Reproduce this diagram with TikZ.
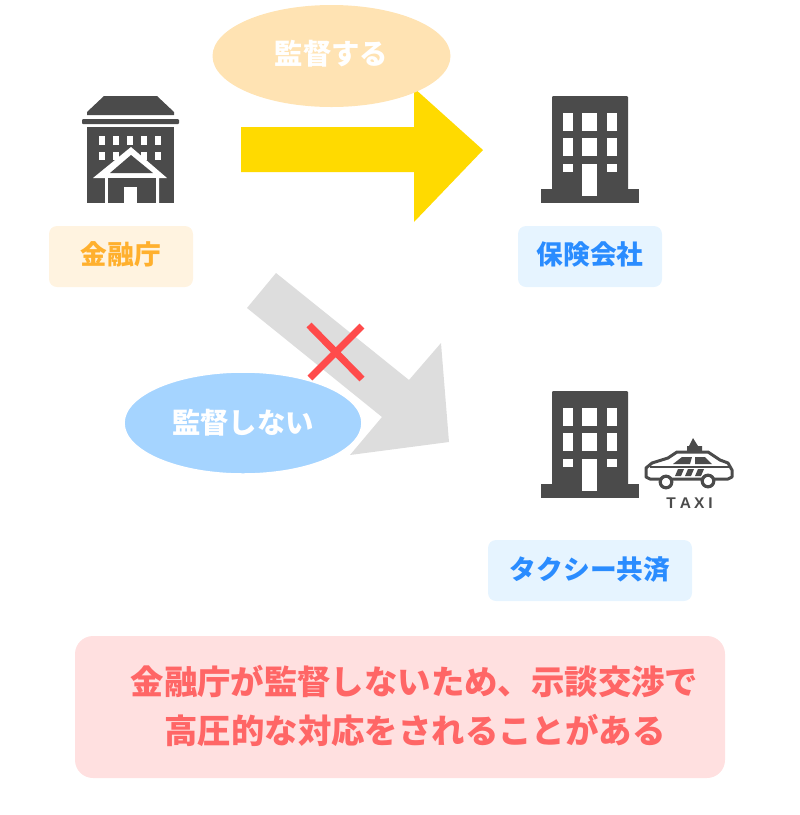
\documentclass[tikz,border=0pt]{standalone}
\usepackage{fontspec}
\setmainfont{Noto Sans CJK JP}
\setsansfont{Liberation Sans}
\definecolor{icondark}{HTML}{4B4B4B}
\definecolor{yellowarrow}{HTML}{FFDA00}
\definecolor{greyarrow}{HTML}{DDDDDD}
\definecolor{crossred}{HTML}{FF4B4B}
\definecolor{orangefill}{HTML}{FFE3B3}
\definecolor{bluefill}{HTML}{A5D4FF}
\definecolor{orangebox}{HTML}{FFF3E0}
\definecolor{orangetext}{HTML}{FFB02E}
\definecolor{bluebox}{HTML}{E6F4FF}
\definecolor{bluetext}{HTML}{2A8CFF}
\definecolor{redbox}{HTML}{FFE0E0}
\definecolor{redtext}{HTML}{FF6666}
\tikzset{
  oval/.style={ellipse,minimum width=238pt,minimum height=102pt,inner sep=0pt,
    text=white,font=\fontsize{28.4}{28.4}\selectfont\bfseries},
  labelbox/.style={rounded corners=8pt,minimum height=61pt,inner sep=0pt,
    font=\fontsize{26.7}{26.7}\selectfont\bfseries},
  notetext/.style={text=redtext,inner sep=0pt,font=\fontsize{33.4}{33.4}\selectfont\bfseries},
  office/.pic={
    \fill[icondark,rounded corners=1pt] (11,0) -- (87,0) -- (87,94) -- (11,94) -- cycle;
    \fill[icondark] (0,93) rectangle (98,107);
    \foreach \xa/\xb in {22/32,41/56,66/76} {
      \fill[white] (\xa,17) rectangle (\xb,35);
      \fill[white] (\xa,42) rectangle (\xb,60);
    }
    \fill[white] (22,68) rectangle (32,76);
    \fill[white] (66,68) rectangle (76,76);
    \fill[white] (41,68) rectangle (56,100);
  }
}
\usetikzlibrary{shapes.geometric}
\begin{document}
\begin{tikzpicture}[x=1pt,y=-1pt]
  \useasboundingbox (0,0) rectangle (800,815);
  % arrows
  \fill[yellowarrow] (241,127) -- (414,127) -- (414,88) -- (483,150) -- (414,222) -- (414,172) -- (241,172) -- cycle;
  \fill[greyarrow] (276,273) -- (409,380) -- (441,343) -- (449,442) -- (350,455) -- (382,417) -- (247,308) -- cycle;
  % ovals
  \node[oval,fill=orangefill] (kantoku) at (331.5,56) {\raisebox{7pt}{監督する}};
  \node[oval,fill=bluefill,draw=white,line width=1.5pt] (nokantoku) at (243,423) {\raisebox{4pt}{監督しない}};
  % cross
  \draw[crossred,line width=7pt] (309,325) -- (362,379) (362,326) -- (310,378);
  % government building
  \fill[icondark] (104,96) -- (157,96) -- (174,112) -- (174,115) -- (87,115) -- (87,112) -- cycle;
  \fill[icondark,rounded corners=1pt] (82,119) rectangle (179,124);
  \fill[icondark] (87,127) rectangle (174,203);
  \foreach \x in {102,116,130,144,158} {
    \fill[white] (\x-3,136) rectangle (\x+3,145);
    \fill[white] (\x-3,152) rectangle (\x+3,160);
  }
  \fill[white] (93,178) -- (131,147) -- (167,178) -- (159,178) -- (159,203) -- (105,203) -- (105,178) -- cycle;
  \fill[icondark] (110,173) -- (131,155) -- (153,173) -- cycle;
  \fill[icondark] (108,178) rectangle (156,203);
  \fill[white] (124,187) rectangle (137,203);
  % offices
  \pic at (541,96) {office};
  \pic at (541,391) {office};
  % taxi
  \draw[icondark,line width=3pt,line join=round,fill=white] (650,479) -- (646,477) -- (646,468) -- (652,463) -- (668,458) -- (677,452) -- (708,452) -- (720,460) -- (728,463) -- (732,470) -- (732,477) -- (728,479) -- cycle;
  \fill[icondark] (693,438) -- (698,446) -- (702,446) -- (702,451) -- (687,451) -- (687,446) -- (689,446) -- cycle;
  \fill[icondark] (673,464) -- (682,457) -- (692,457) -- (690,464) -- cycle;
  \fill[icondark] (695,457) -- (705,457) -- (712,464) -- (695,464) -- cycle;
  \draw[icondark,line width=2.4pt] (650,467) -- (729,467);
  \fill[icondark] (678,469) -- (684,469) -- (681,476) -- (675,476) -- cycle;
  \fill[icondark] (688,469) -- (694,469) -- (691,476) -- (685,476) -- cycle;
  \fill[icondark] (698,469) -- (704,469) -- (701,476) -- (695,476) -- cycle;
  \draw[icondark,line width=3.2pt,fill=white] (666,482) circle (5.8pt) (708,481) circle (5.8pt);
  \node[font=\sffamily\bfseries\fontsize{15.5}{15.5}\selectfont,text=icondark,inner sep=0pt] (taxilabel) at (689.5,503) {T\hspace{4pt}A\hspace{3pt}X\hspace{4pt}I};
  % labels
  \node[labelbox,fill=orangebox,text=orangetext,minimum width=144pt] (fsa) at (121,256.5) {\raisebox{7pt}{金融庁}};
  \node[labelbox,fill=bluebox,text=bluetext,minimum width=144pt] (hoken) at (590,256.5) {\raisebox{7pt}{保険会社}};
  \node[labelbox,fill=bluebox,text=bluetext,minimum width=204pt] (kyosai) at (590,570.5) {\raisebox{4.5pt}{タクシー共済}};
  % note
  \node[rounded corners=18pt,fill=redbox,minimum width=650pt,minimum height=142pt] (notebox) at (400,707) {};
  \node[notetext] (noteone) at (414.5,681) {金融庁が監督しないため、示談交渉で};
  \node[notetext] (notetwo) at (415,730) {高圧的な対応をされることがある};
\end{tikzpicture}
\end{document}
